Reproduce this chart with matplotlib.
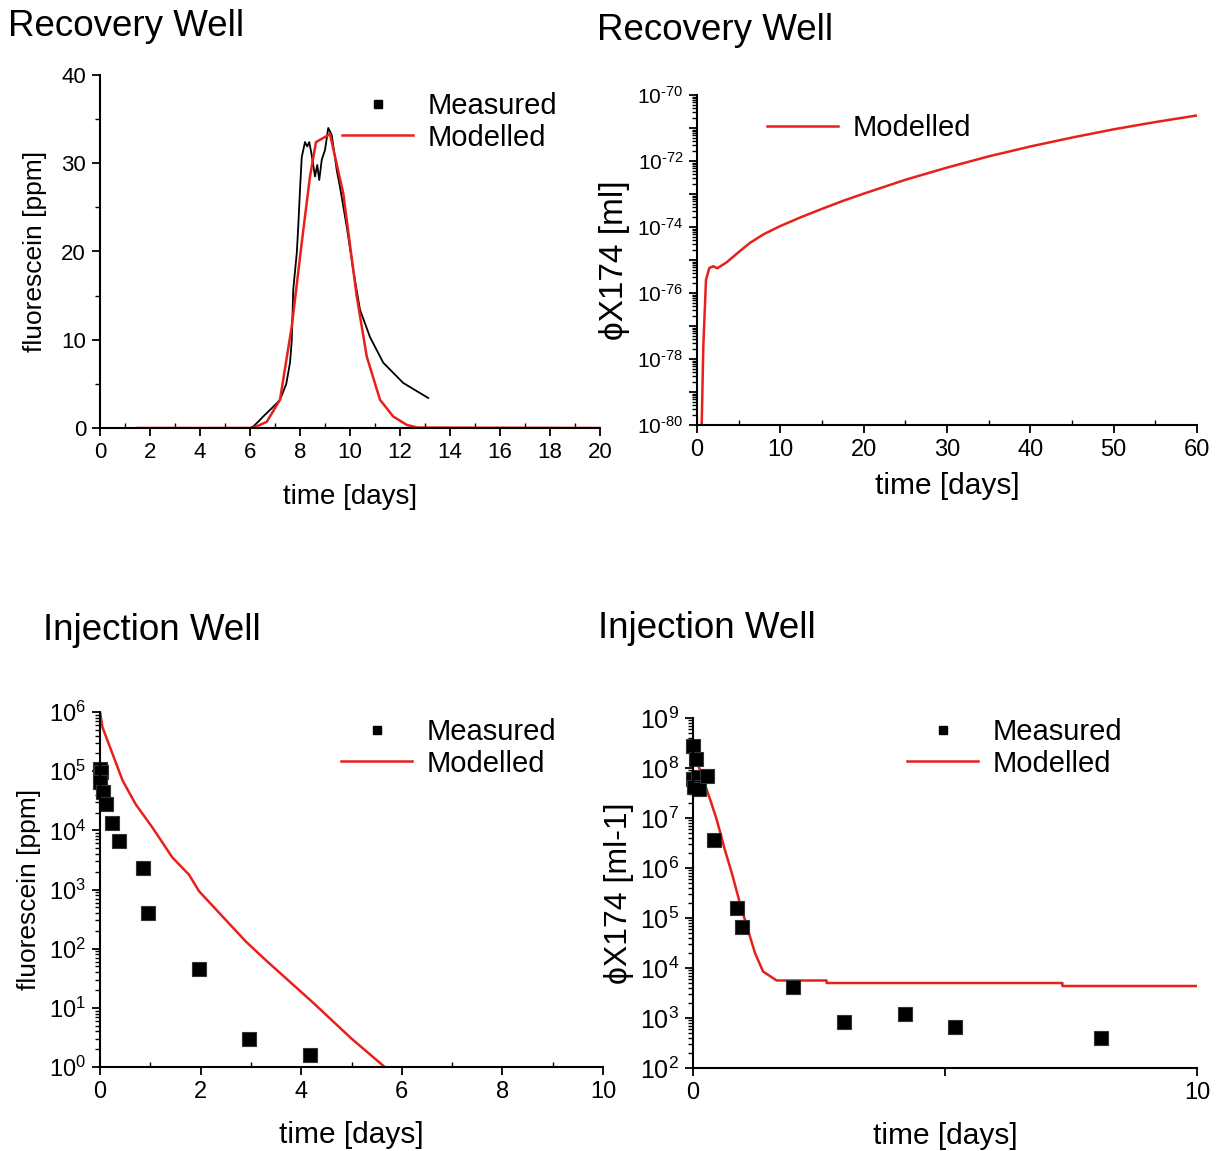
import numpy as np
import matplotlib.pyplot as plt
from matplotlib.ticker import MultipleLocator, LogLocator, FuncFormatter, NullFormatter, FixedLocator

plt.rcParams['font.family'] = ['Liberation Sans', 'DejaVu Sans']
plt.rcParams['mathtext.fontset'] = 'custom'
plt.rcParams['mathtext.rm'] = 'Liberation Sans'
plt.rcParams['mathtext.it'] = 'Liberation Sans:italic'
plt.rcParams['axes.linewidth'] = 1.5

# Recovery well, fluorescein (linear)
rec_meas_t = [0.8, 1.0, 6.0, 6.13, 6.6, 7.0, 7.2, 7.45, 7.6, 7.67, 7.73, 7.87, 7.93, 8.0, 8.07,
              8.2, 8.29, 8.37, 8.47, 8.6, 8.69, 8.77, 8.87, 9.0, 9.13, 9.27, 9.47, 9.6, 9.87,
              10.13, 10.4, 10.8, 11.33, 12.13, 13.13]
rec_meas_c = [0.0, 0.0, 0.0, 0.15, 1.5, 2.6, 3.2, 5.0, 7.4, 9.9, 15.7, 19.8, 22.8, 27.0, 30.7,
              32.4, 31.9, 32.4, 30.9, 28.5, 29.8, 28.1, 30.4, 31.5, 34.0, 33.2, 29.2, 27.3, 22.8,
              17.9, 13.4, 10.3, 7.4, 5.1, 3.4]
rec_mod_t = [1.5, 6.13, 6.67, 7.2, 7.67, 8.07, 8.4, 8.64, 9.2, 9.73, 10.27, 10.67, 11.2,
             11.73, 12.27, 12.7, 20.0]
rec_mod_c = [0.0, 0.0, 0.7, 3.2, 11.5, 21.0, 28.5, 32.4, 33.3, 26.6, 14.9, 8.1, 3.2,
             1.3, 0.35, 0.05, 0.0]

# Recovery well, phiX174 (log10 of modelled value)
rec_phi_t = [0.52, 0.56, 0.76, 1.08, 1.48, 1.96, 2.44, 3.56, 5.0, 6.36, 8.0, 10.0, 12.5, 15.0,
             17.5, 20.0, 25.0, 30.0, 35.0, 40.0, 45.0, 50.0, 55.0, 60.0]
rec_phi_log = [-81.0, -80.05, -77.6, -75.6, -75.24, -75.19, -75.25, -75.07, -74.76, -74.48,
               -74.22, -73.97, -73.70, -73.45, -73.21, -72.99, -72.57, -72.20, -71.86, -71.56,
               -71.29, -71.04, -70.82, -70.62]

# Injection well, fluorescein
inj_meas_t = [0.0, 0.02, 0.0, 0.05, 0.12, 0.23, 0.38, 0.86, 0.96, 1.97, 2.97, 4.18]
inj_meas_c = [1.1e5, 9.5e4, 6.5e4, 4.4e4, 2.8e4, 1.35e4, 6.5e3, 2.35e3, 4.0e2, 45, 3.0, 1.6]
inj_mod_t = [0.0, 0.05, 0.25, 0.45, 0.71, 1.04, 1.44, 1.77, 1.97, 2.9, 3.29, 4.22, 5.0, 5.66, 5.8]
inj_mod_log = [6.0, 5.74, 5.29, 4.84, 4.44, 4.05, 3.54, 3.25, 2.97, 2.12, 1.81, 1.10, 0.48, 0.0, -0.2]

# Injection well, phiX174
phi_meas_t = [0.0, 0.05, 0.0, 0.09, 0.02, 0.12, 0.27, 0.42, 0.88, 0.98, 1.99, 3.0, 4.2, 5.2, 8.1]
phi_meas_c = [2.7e8, 1.5e8, 5.9e7, 6.6e7, 4.2e7, 3.8e7, 7.0e7, 3.7e6, 1.6e5, 6.5e4,
              4.2e3, 8.2e2, 1.2e3, 6.6e2, 4.0e2]
phi_mod_t = [0.0, 0.2, 0.34, 0.47, 0.63, 0.77, 0.93, 1.07, 1.23, 1.39, 1.66, 2.65, 2.65, 7.33, 7.33, 10.0]
phi_mod_log = [8.37, 7.77, 7.37, 6.97, 6.37, 5.9, 5.3, 4.83, 4.30, 3.93, 3.75, 3.75, 3.70, 3.70, 3.64, 3.64]

RED = '#e8201a'
W, H = 1224, 1151
fig = plt.figure(figsize=(W / 100, H / 100), dpi=100)


def axes_px(l, t, r, b):
    return fig.add_axes([l / W, 1 - b / H, (r - l) / W, (b - t) / H])


def style(ax, lsize=16):
    ax.spines['top'].set_visible(False)
    ax.spines['right'].set_visible(False)
    ax.tick_params(which='major', length=6, width=1.3, labelsize=lsize, direction='out', pad=4)
    ax.tick_params(which='minor', length=3.5, width=1.0)
    ax.tick_params(axis='x', which='minor', direction='in')
    ax.tick_params(axis='y', which='minor', direction='out')


def log_label(v, pos):
    e = int(round(np.log10(v)))
    if e < 0:
        return '$10^{' + '\u2010' + str(-e) + '}$'
    return '$10^{' + str(e) + '}$'


def add_legend(ax, x, y, marker=True):
    h = []
    if marker:
        h.append(ax.plot([], [], 's', color='black', ms=6, label='Measured')[0])
    h.append(ax.plot([], [], '-', color=RED, lw=1.8, label='Modelled')[0])
    ax.legend(handles=h, loc='upper left', bbox_to_anchor=(x / W, 1 - y / H),
              bbox_transform=fig.transFigure, frameon=False, fontsize=21,
              handlelength=2.45, handletextpad=0.5, labelspacing=0.12,
              borderpad=0, borderaxespad=0, numpoints=1)


# top left
ax1 = axes_px(100, 75, 600, 428)
ax1.plot(rec_meas_t, rec_meas_c, color='black', lw=1.3)
ax1.plot(rec_mod_t, rec_mod_c, color=RED, lw=1.8)
ax1.set_xlim(0, 20)
ax1.set_ylim(0, 40)
ax1.xaxis.set_major_locator(MultipleLocator(2))
ax1.xaxis.set_minor_locator(MultipleLocator(1))
ax1.yaxis.set_major_locator(MultipleLocator(10))
ax1.yaxis.set_minor_locator(MultipleLocator(5))
style(ax1)
ax1.set_xlabel('time [days]', fontsize=20, labelpad=15)
ax1.set_ylabel('fluorescein [ppm]', fontsize=19, labelpad=10)
add_legend(ax1, 342, 92)

# top right
ax2 = axes_px(697, 95, 1197, 425)
ax2.plot(rec_phi_t, np.power(10.0, rec_phi_log), color=RED, lw=1.8)
ax2.set_yscale('log')
ax2.set_xlim(0, 60)
ax2.set_ylim(1e-80, 1e-70)
ax2.xaxis.set_major_locator(MultipleLocator(10))
ax2.xaxis.set_minor_locator(MultipleLocator(5))
ax2.yaxis.set_major_locator(FixedLocator([10.0 ** e for e in range(-80, -69)]))
ax2.yaxis.set_major_formatter(FuncFormatter(
    lambda v, p: log_label(v, p) if int(round(np.log10(v))) % 2 == 0 else ''))
ax2.yaxis.set_minor_locator(LogLocator(base=10, subs=np.arange(2, 10), numticks=30))
ax2.yaxis.set_minor_formatter(NullFormatter())
style(ax2, 17)
ax2.tick_params(axis='y', which='major', labelsize=15)
ax2.set_xlabel('time [days]', fontsize=21.5, labelpad=8)
ax2.set_ylabel('\u03d5X174 [ml]', fontsize=24, labelpad=5)
add_legend(ax2, 767, 114, marker=False)

# bottom left
ax3 = axes_px(100, 712, 603, 1067)
ax3.plot(inj_mod_t, np.power(10.0, inj_mod_log), color=RED, lw=1.8)
ax3.plot(inj_meas_t, inj_meas_c, 's', color='black', ms=10, mec='#333333', mew=0.8, clip_on=False)
ax3.set_yscale('log')
ax3.set_xlim(0, 10)
ax3.set_ylim(1, 1e6)
ax3.xaxis.set_major_locator(MultipleLocator(2))
ax3.xaxis.set_minor_locator(MultipleLocator(1))
ax3.yaxis.set_major_locator(LogLocator(base=10, numticks=20))
ax3.yaxis.set_major_formatter(FuncFormatter(log_label))
ax3.yaxis.set_minor_locator(LogLocator(base=10, subs=np.arange(2, 10), numticks=30))
ax3.yaxis.set_minor_formatter(NullFormatter())
style(ax3, 17)
ax3.set_xlabel('time [days]', fontsize=21.5, labelpad=13)
ax3.set_ylabel('fluorescein [ppm]', fontsize=19, labelpad=6)
add_legend(ax3, 341, 718)

# bottom right
ax4 = axes_px(693, 718, 1197, 1068)
ax4.plot(phi_mod_t, np.power(10.0, phi_mod_log), color=RED, lw=1.8)
ax4.plot(phi_meas_t, phi_meas_c, 's', color='black', ms=10, mec='#333333', mew=0.8, clip_on=False)
ax4.set_yscale('log')
ax4.set_xlim(0, 10)
ax4.set_ylim(1e2, 1e9)
ax4.set_xticks([0, 5, 10])
ax4.set_xticklabels(['0', '', '10'])
ax4.yaxis.set_major_locator(LogLocator(base=10, numticks=20))
ax4.yaxis.set_major_formatter(FuncFormatter(log_label))
ax4.yaxis.set_minor_locator(LogLocator(base=10, subs=np.arange(2, 10), numticks=30))
ax4.yaxis.set_minor_formatter(NullFormatter())
style(ax4, 17)
ax4.tick_params(axis='y', which='major', labelsize=18)
ax4.set_xlabel('time [days]', fontsize=21.5, labelpad=13)
ax4.set_ylabel('\u03d5X174 [ml-1]', fontsize=23, labelpad=4)
add_legend(ax4, 907, 718)

fig.text(8 / W, 1 - 27 / H, 'Recovery Well', fontsize=26.5, va='center', ha='left')
fig.text(597 / W, 1 - 31 / H, 'Recovery Well', fontsize=26.5, va='center', ha='left')
fig.text(43 / W, 1 - 630 / H, 'Injection Well', fontsize=26.5, va='center', ha='left')
fig.text(598 / W, 1 - 628 / H, 'Injection Well', fontsize=26.5, va='center', ha='left')

fig.savefig('out.png', dpi=100, facecolor='white')
